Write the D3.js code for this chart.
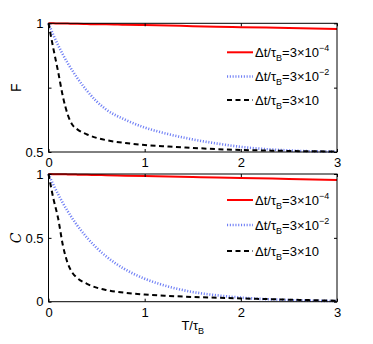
<!DOCTYPE html>
<html>
<head>
<meta charset="utf-8">
<script src="https://cdn.jsdelivr.net/npm/d3@7"></script>
<style>
  body { margin: 0; background: #fff; }
  text { font-family: "Liberation Sans", Arial, sans-serif; fill: #000; }
</style>
</head>
<body>
<div id="chart"></div>
<script>
// data
var T = [0, 0.05, 0.1, 0.15, 0.2, 0.25, 0.3, 0.4, 0.5, 0.6, 0.8, 1, 1.25, 1.5, 1.75, 2, 2.5, 3];

// top panel: F
var fRed   = [1, 1, 0.999, 0.999, 0.999, 0.998, 0.998, 0.997, 0.996, 0.996, 0.994, 0.993, 0.991, 0.989, 0.987, 0.985, 0.982, 0.978];
var fBlue  = [1, 0.955, 0.915, 0.878, 0.845, 0.815, 0.787, 0.738, 0.697, 0.665, 0.625, 0.595, 0.569, 0.549, 0.533, 0.52, 0.506, 0.501];
var fBlack = [1, 0.903, 0.812, 0.715, 0.645, 0.605, 0.588, 0.568, 0.555, 0.546, 0.535, 0.527, 0.521, 0.516, 0.511, 0.508, 0.504, 0.502];

// bottom panel: C
var cRed   = [1, 0.999, 0.998, 0.998, 0.997, 0.996, 0.995, 0.994, 0.992, 0.991, 0.987, 0.984, 0.98, 0.976, 0.972, 0.969, 0.961, 0.953];
var cBlue  = [1, 0.917, 0.842, 0.772, 0.708, 0.65, 0.596, 0.502, 0.422, 0.355, 0.252, 0.18, 0.118, 0.076, 0.05, 0.032, 0.013, 0.005];
var cBlack = [1, 0.81, 0.653, 0.44, 0.3, 0.225, 0.185, 0.14, 0.11, 0.092, 0.07, 0.056, 0.045, 0.037, 0.031, 0.026, 0.016, 0.008];

var xTicks = [0, 1, 2, 3];
var legendExp = ["\u22124", "\u22122", ""];

var svg = d3.select("#chart").append("svg")
  .attr("width", 373)
  .attr("height", 344);

var xScale = d3.scaleLinear().domain([0, 3]).range([48.5, 337]);

var styles = [
  { color: "#ff0000", width: 2, dash: null },
  { color: "#6f7ff5", width: 2.6, dash: "1.1,1.7" },
  { color: "#000000", width: 2, dash: "5,3.5" }
];

function panel(top, bottom, yDomain, yTicks, yLabels, series, legendY, yName, yNameFont) {
  var yScale = d3.scaleLinear().domain(yDomain).range([bottom, top]);
  var g = svg.append("g");

  // curves
  var line = d3.line()
    .x(function(d) { return xScale(d[0]); })
    .y(function(d) { return yScale(d[1]); })
    .curve(d3.curveMonotoneX);

  series.forEach(function(s, i) {
    g.append("path")
      .datum(T.map(function(t, j) { return [t, s[j]]; }))
      .attr("d", line)
      .attr("fill", "none")
      .attr("stroke", styles[i].color)
      .attr("stroke-width", styles[i].width)
      .attr("stroke-dasharray", styles[i].dash);
  });

  // box
  g.append("rect")
    .attr("x", xScale(0)).attr("y", top)
    .attr("width", xScale(3) - xScale(0)).attr("height", bottom - top)
    .attr("fill", "none").attr("stroke", "#000").attr("stroke-width", 1);

  // axes, ticks pointing inward
  g.append("g")
    .attr("transform", "translate(0," + bottom + ")")
    .call(d3.axisBottom(xScale).tickValues(xTicks).tickSize(-3).tickPadding(6).tickFormat(d3.format("d")))
    .call(function(a) { a.select(".domain").remove(); });
  g.append("g")
    .attr("transform", "translate(0," + top + ")")
    .call(d3.axisTop(xScale).tickValues(xTicks).tickSize(-3).tickFormat(""))
    .call(function(a) { a.select(".domain").remove(); });
  g.append("g")
    .attr("transform", "translate(" + xScale(0) + ",0)")
    .call(d3.axisLeft(yScale).tickValues(yTicks).tickSize(-3).tickPadding(5)
      .tickFormat(function(d, i) { return yLabels[i]; }))
    .call(function(a) { a.select(".domain").remove(); });
  g.append("g")
    .attr("transform", "translate(" + xScale(3) + ",0)")
    .call(d3.axisRight(yScale).tickValues(yTicks).tickSize(-3).tickFormat(""))
    .call(function(a) { a.select(".domain").remove(); });

  g.selectAll(".tick text")
    .attr("font-family", "Liberation Sans, Arial, sans-serif")
    .attr("font-size", 13)
    .attr("fill", "#000");
  g.selectAll(".tick line").attr("stroke", "#000");

  // y label
  g.append("text")
    .attr("transform", "translate(21," + ((top + bottom) / 2) + ") rotate(-90)")
    .attr("text-anchor", "middle")
    .style("font-size", "14px")
    .style("font-family", yNameFont)
    .style("font-style", yNameFont ? "italic" : null)
    .text(yName);

  // legend
  styles.forEach(function(s, i) {
    var y = legendY[i];
    g.append("line")
      .attr("x1", 227).attr("x2", 253)
      .attr("y1", y).attr("y2", y)
      .attr("stroke", s.color)
      .attr("stroke-width", s.width)
      .attr("stroke-dasharray", s.dash);
    var t = g.append("text")
      .attr("x", 255).attr("y", y + 4.5)
      .style("font-size", "13px");
    t.append("tspan").text("\u0394t/\u03c4");
    t.append("tspan").attr("dy", 4).style("font-size", "9px").text("B");
    t.append("tspan").attr("dy", -4).text("=3\u00d710");
    if (legendExp[i]) {
      t.append("tspan").attr("dy", -6).style("font-size", "9px").text(legendExp[i]);
    }
  });
}

panel(23.3, 152, [0.5, 1], [0.5, 0.75, 1], ["0.5", "", "1"],
  [fRed, fBlue, fBlack], [52.3, 76.5, 100], "F", null);
panel(174, 301.7, [0, 1], [0, 0.5, 1], ["0", "0.5", "1"],
  [cRed, cBlue, cBlack], [200, 225, 251], "C", "DejaVu Serif");

// x axis label
var xl = svg.append("text")
  .attr("x", xScale(1.5))
  .attr("y", 330)
  .attr("text-anchor", "middle")
  .style("font-size", "13px");
xl.append("tspan").text("T/\u03c4");
xl.append("tspan").attr("dy", 4).style("font-size", "9px").text("B");
</script>
</body>
</html>
